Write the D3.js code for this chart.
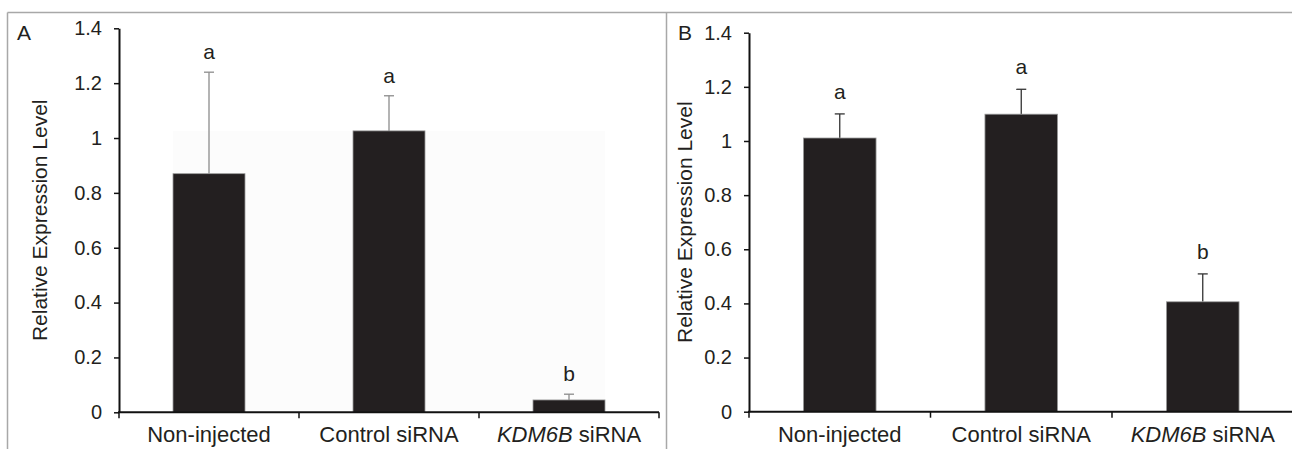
<!DOCTYPE html>
<html>
<head>
<meta charset="utf-8">
<script src="https://cdn.jsdelivr.net/npm/d3@7"></script>
<style>
  html, body { margin: 0; padding: 0; background: #fff; }
  svg { display: block; }
  text { font-family: "Liberation Sans", Arial, Helvetica, sans-serif; fill: #231f20; }
</style>
</head>
<body>
<svg id="chart" width="1292" height="449"></svg>
<script>
// ---- data ----
const categories = ["Non-injected", "Control siRNA", "KDM6B siRNA"];
const valuesA = [0.87, 1.026, 0.045];
const errorsA = [0.37, 0.128, 0.021];
const lettersA = ["a", "a", "b"];
const valuesB = [1.011, 1.099, 0.406];
const errorsB = [0.089, 0.092, 0.103];
const lettersB = ["a", "a", "b"];
const yTicks = [0, 0.2, 0.4, 0.6, 0.8, 1.0, 1.2, 1.4];
const yTickLabels = ["0", "0.2", "0.4", "0.6", "0.8", "1", "1.2", "1.4"];
const yTitle = "Relative Expression Level";
const panelLabels = ["A", "B"];

const svg = d3.select("#chart");
const textColor = "#231f20";

// ---- frame ----
const frame = svg.append("g").attr("fill", "none").attr("stroke", "#a8a8a8").attr("stroke-width", 1.5);
frame.append("line").attr("x1", 7.5).attr("x2", 1292).attr("y1", 12.5).attr("y2", 12.5);
frame.append("line").attr("x1", 7.5).attr("x2", 7.5).attr("y1", 12.5).attr("y2", 449);
frame.append("line").attr("x1", 666.5).attr("x2", 666.5).attr("y1", 12.5).attr("y2", 449);

const panels = [
  { label: panelLabels[0], values: valuesA, errors: errorsA, letters: lettersA,
    x0: 119, x1: 659, yBottom: 412.3, yTop: 28.3, errColor: "#8c8c8c", letterGap: 13,
    labelX: 17, labelY: 40, titleX: 47, bg: true },
  { label: panelLabels[1], values: valuesB, errors: errorsB, letters: lettersB,
    x0: 749, x1: 1293.5, yBottom: 411.7, yTop: 32.7, errColor: "#333333", letterGap: 15,
    labelX: 678, labelY: 40, titleX: 692, bg: false }
];

panels.forEach(p => {
  const g = svg.append("g");
  const x = d3.scaleBand().domain(categories).range([p.x0, p.x1]).padding(0);
  const y = d3.scaleLinear().domain([0, 1.4]).range([p.yBottom, p.yTop]);
  const bw = x.bandwidth() * 0.4;
  const bx = c => x(c) + (x.bandwidth() - bw) / 2;
  const data = categories.map((c, i) => ({ c, v: p.values[i], e: p.errors[i], l: p.letters[i] }));

  // faint background (panel A)
  if (p.bg) {
    g.append("rect")
      .attr("x", bx(categories[0]))
      .attr("width", bx(categories[2]) + bw - bx(categories[0]))
      .attr("y", y(d3.max(p.values)))
      .attr("height", y(0) - y(d3.max(p.values)))
      .attr("fill", "#fcfcfc");
  }

  // error bars
  const eg = g.append("g").attr("stroke", p.errColor).attr("stroke-width", 1.3);
  data.forEach(d => {
    const cx = bx(d.c) + bw / 2;
    eg.append("line").attr("x1", cx).attr("x2", cx).attr("y1", y(d.v)).attr("y2", y(d.v + d.e));
    eg.append("line").attr("x1", cx - 5).attr("x2", cx + 5).attr("y1", y(d.v + d.e)).attr("y2", y(d.v + d.e));
  });

  // bars
  g.selectAll("rect.bar").data(data).enter().append("rect")
    .attr("class", "bar")
    .attr("x", d => bx(d.c))
    .attr("width", bw)
    .attr("y", d => y(d.v))
    .attr("height", d => y(0) - y(d.v))
    .attr("fill", "#231f20")
    .attr("stroke", "#9a9a9a")
    .attr("stroke-width", 0.8);

  // significance letters
  g.selectAll("text.sig").data(data).enter().append("text")
    .attr("class", "sig")
    .attr("x", d => bx(d.c) + bw / 2)
    .attr("y", d => y(d.v + d.e) - p.letterGap)
    .attr("text-anchor", "middle")
    .attr("font-size", 21)
    .text(d => d.l);

  // y axis
  const yAxis = d3.axisLeft(y).tickValues(yTicks)
    .tickFormat((d, i) => yTickLabels[i]).tickSize(5).tickSizeOuter(0).tickPadding(12);
  const ya = g.append("g").attr("transform", `translate(${p.x0},0)`).call(yAxis);
  ya.select(".domain").attr("stroke", "#111").attr("stroke-width", 2);
  ya.selectAll(".tick line").attr("stroke", "#111").attr("stroke-width", 1.5);
  ya.selectAll(".tick text").attr("font-size", 20).attr("fill", textColor)
    .style("font-family", '"Liberation Sans", Arial, sans-serif');

  // x axis
  const xa = g.append("g").attr("stroke", "#111");
  xa.append("line").attr("x1", p.x0 - 1).attr("x2", p.x1).attr("y1", y(0)).attr("y2", y(0)).attr("stroke-width", 2);
  const bounds = categories.map(c => x(c)).concat([x(categories[2]) + x.bandwidth()]);
  bounds.forEach(b => {
    xa.append("line").attr("x1", b).attr("x2", b).attr("y1", y(0)).attr("y2", y(0) + 6).attr("stroke-width", 1.5);
  });

  // x labels
  categories.forEach(c => {
    const t = g.append("text")
      .attr("x", x(c) + x.bandwidth() / 2)
      .attr("y", y(0) + 30)
      .attr("text-anchor", "middle")
      .attr("font-size", 22);
    if (c.startsWith("KDM6B")) {
      t.append("tspan").attr("font-style", "italic").text("KDM6B");
      t.append("tspan").text(c.slice(5));
    } else {
      t.text(c);
    }
  });

  // y title
  g.append("text")
    .attr("transform", `translate(${p.titleX},${(p.yBottom + p.yTop) / 2}) rotate(-90)`)
    .attr("text-anchor", "middle")
    .attr("font-size", 21)
    .text(yTitle);

  // panel label
  g.append("text")
    .attr("x", p.labelX)
    .attr("y", p.labelY)
    .attr("font-size", 21)
    .text(p.label);
});
</script>
</body>
</html>
